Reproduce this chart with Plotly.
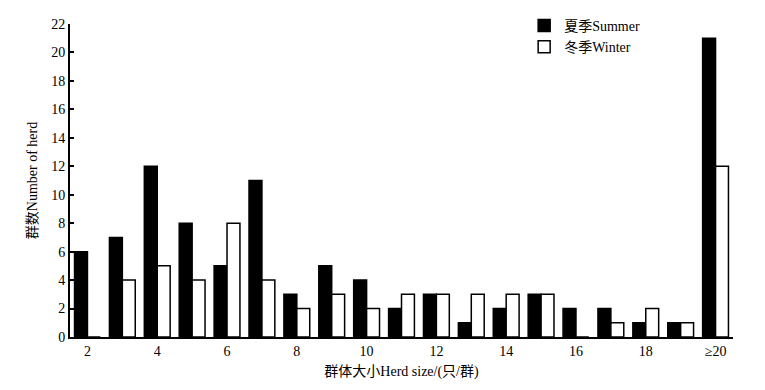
import plotly.graph_objects as go

categories = ["2", "3", "4", "5", "6", "7", "8", "9", "10", "11", "12",
              "13", "14", "15", "16", "17", "18", "19", "≥20"]
summer = [6, 7, 12, 8, 5, 11, 3, 5, 4, 2, 3, 1, 2, 3, 2, 2, 1, 1, 21]
winter = [0, 4, 5, 4, 8, 4, 2, 3, 2, 3, 3, 3, 3, 3, 0, 1, 2, 1, 12]
x_ticks = ["2", "4", "6", "8", "10", "12", "14", "16", "18", "≥20"]
y_ticks = list(range(0, 23, 2))

FONT = "Liberation Serif, Times New Roman, Noto Sans CJK SC, serif"

fig = go.Figure()
fig.add_trace(go.Bar(x=categories, y=summer, name="夏季Summer",
                     marker=dict(color="black", line=dict(color="black", width=1.5))))
fig.add_trace(go.Bar(x=categories, y=winter, name="冬季Winter",
                     marker=dict(color="white", line=dict(color="black", width=1.5))))

fig.update_layout(
    width=765, height=390,
    margin=dict(l=70, r=32, t=24, b=53, autoexpand=False),
    paper_bgcolor="white", plot_bgcolor="white",
    barmode="group", bargap=0.26, bargroupgap=0,
    font=dict(family=FONT, size=14, color="black"),
    showlegend=True,
    legend=dict(x=0.685, y=1.045, xanchor="left", yanchor="top",
                bgcolor="rgba(0,0,0,0)", font=dict(size=14),
                itemwidth=30),
    xaxis=dict(type="category", range=[-0.5, 18.5], tickvals=x_ticks,
               showline=True, linecolor="black", linewidth=2,
               showgrid=False, ticks="", zeroline=False, automargin=False,
               title=dict(text="群体大小Herd size/(只/群)", standoff=8,
                          font=dict(size=14))),
    yaxis=dict(range=[0, 22], tickvals=y_ticks,
               showline=True, linecolor="black", linewidth=2,
               showgrid=False, zeroline=False, automargin=False,
               ticks="inside", ticklen=4, tickcolor="black", tickwidth=1.5,
               title=dict(text="群数Number of herd", standoff=10,
                          font=dict(size=14))),
)

fig.write_html("out.html",
               config={"displayModeBar": False},
               post_script="document.body.style.margin='0';document.body.style.padding='0';")
